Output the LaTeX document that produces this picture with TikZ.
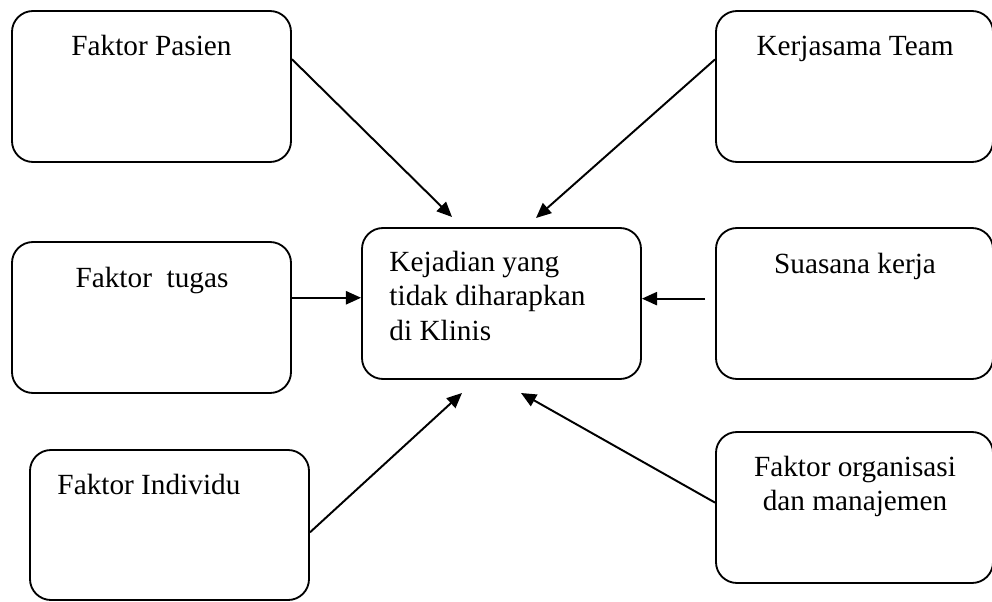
\documentclass[tikz,border=0pt]{standalone}
\usepackage{fontspec}
\setmainfont{Liberation Serif}
\usetikzlibrary{arrows.meta,positioning,calc}
\tikzset{
  factorbox/.style={draw=black,line width=0.75pt,rounded corners=8.6pt,
                    minimum width=114.4pt,minimum height=61.9pt,inner sep=0pt},
  sidebox/.style={factorbox,minimum width=113.6pt},
  lbl/.style={inner sep=0pt,font=\fontsize{12}{14}\selectfont},
  arr/.style={-{Triangle[length=6.2pt,width=5.4pt]},line width=0.8pt}
}
\begin{document}
\begin{tikzpicture}[x=0.41pt,y=-0.41pt]
    \path[use as bounding box] (0,0) rectangle (992,601);
    % boxes
    \node[factorbox] (pasien) at (151.5,86.5) {};
    \node[sidebox] (kerja) at (854.5,86.5) {};
    \node[factorbox] (tugas) at (151.5,317.5) {};
    \node[factorbox] (kejadian) at (501.5,303.5) {};
    \node[sidebox] (suasana) at (854.5,303.5) {};
    \node[factorbox,minimum height=61.5pt] (individu) at (169.5,525) {};
    \node[sidebox] (organisasi) at (854.5,507.5) {};

    % texts
    \node[lbl,anchor=base] (pasienlbl) at (151.5,56) {Faktor Pasien};
    \node[lbl,anchor=base] (kerjalbl) at (855,56) {Kerjasama Team};
    \node[lbl,anchor=base] (tugaslbl) at (152,287) {Faktor~~tugas};
    \node[lbl,anchor=base] (suasanalbl) at (855,273) {Suasana kerja};
    \node[lbl,anchor=north west,align=left] (kejadianlbl) at (389,251)
      {Kejadian yang\\tidak diharapkan\\di Klinis};
    \node[lbl,anchor=base west] (individulbl) at (57,494) {Faktor Individu};
    \node[lbl,anchor=north,align=center] (organisasilbl) at (855,456)
      {Faktor organisasi\\dan manajemen};

    % arrow tips
    \coordinate (tipP) at (452,217);
    \coordinate (tipK) at (536,218);
    \coordinate (tipI) at (462,393);
    \coordinate (tipO) at (521,393);

    \draw[arr] (pasien.11) -- (tipP);
    \draw[arr] (kerja.169) -- (tipK);
    \draw[arr] (tugas.8) -- (tugas.8 -| kejadian.west);
    \draw[arr,shorten <=4.1pt] (suasana.178) -- (suasana.178 -| kejadian.east);
    \draw[arr] (individu.-3) -- (tipI);
    \draw[arr] (organisasi.178) -- (tipO);
\end{tikzpicture}
\end{document}
